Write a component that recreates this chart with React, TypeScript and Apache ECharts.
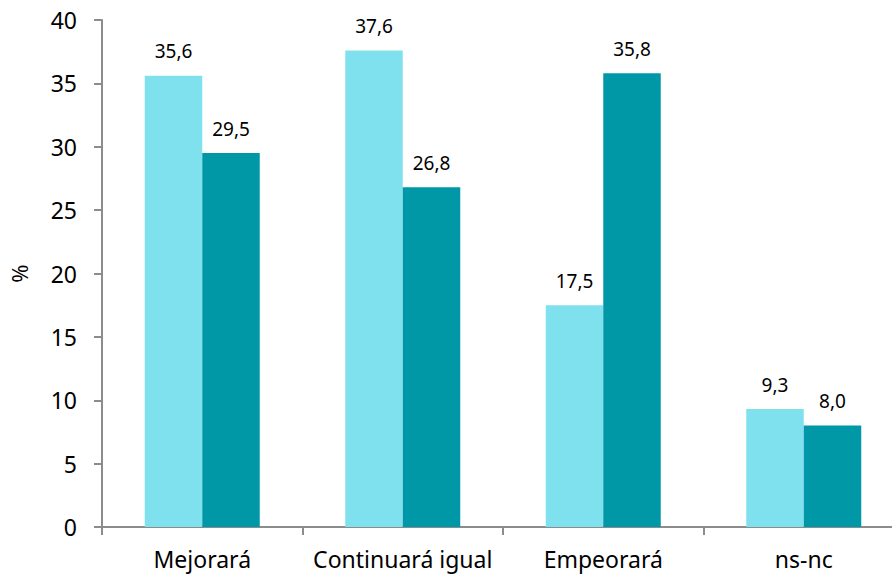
import React, { useEffect, useRef } from "react";
import * as echarts from "echarts";

const categories = ["Mejorará", "Continuará igual", "Empeorará", "ns-nc"];
const seriesA = [35.6, 37.6, 17.5, 9.3];
const seriesB = [29.5, 26.8, 35.8, 8.0];
const yTicks = { min: 0, max: 40, interval: 5 };

export default function App() {
  const ref = useRef<HTMLDivElement>(null);
  useEffect(() => {
    if (!ref.current) return;
    const chart = echarts.init(ref.current, null, { renderer: "svg" });
    const font = "Noto Sans";
    const fmt = (p: any) => Number(p.value).toFixed(1).replace(".", ",");
    chart.setOption({
      animation: false,
      grid: { left: 99, top: 20, right: 0, bottom: 49, containLabel: false },
      xAxis: {
        type: "category",
        data: categories,
        axisLine: { lineStyle: { color: "#8c8c8c", width: 2 } },
        axisTick: { show: true, length: 8, lineStyle: { color: "#8c8c8c", width: 2 } },
        axisLabel: { color: "#000", fontFamily: font, fontSize: 23, margin: 20, interval: 0 },
      },
      yAxis: {
        type: "value",
        min: yTicks.min,
        max: yTicks.max,
        interval: yTicks.interval,
        name: "%",
        nameLocation: "middle",
        nameGap: 72,
        nameTextStyle: { color: "#000", fontFamily: font, fontSize: 22 },
        axisLine: { show: true, lineStyle: { color: "#8c8c8c", width: 2 } },
        axisTick: { show: true, length: 8, lineStyle: { color: "#8c8c8c", width: 2 } },
        axisLabel: { color: "#000", fontFamily: font, fontSize: 23, margin: 25 },
        splitLine: { show: false },
      },
      series: [
        {
          type: "bar",
          data: seriesA,
          barWidth: 57.5,
          barGap: "0%",
          itemStyle: { color: "#80E1EE" },
          label: { show: true, position: "top", distance: 15, formatter: fmt, color: "#000", fontFamily: font, fontSize: 19 },
        },
        {
          type: "bar",
          data: seriesB,
          barWidth: 57.5,
          barGap: "0%",
          itemStyle: { color: "#0098A6" },
          label: { show: true, position: "top", distance: 15, formatter: fmt, color: "#000", fontFamily: font, fontSize: 19 },
        },
      ],
    });
    return () => chart.dispose();
  }, []);
  return (
    <div style={{ width: 892, height: 576, position: "absolute", left: 0, top: 0, overflow: "hidden" }}>
      <div ref={ref} style={{ width: 904, height: 576 }} />
    </div>
  );
}
